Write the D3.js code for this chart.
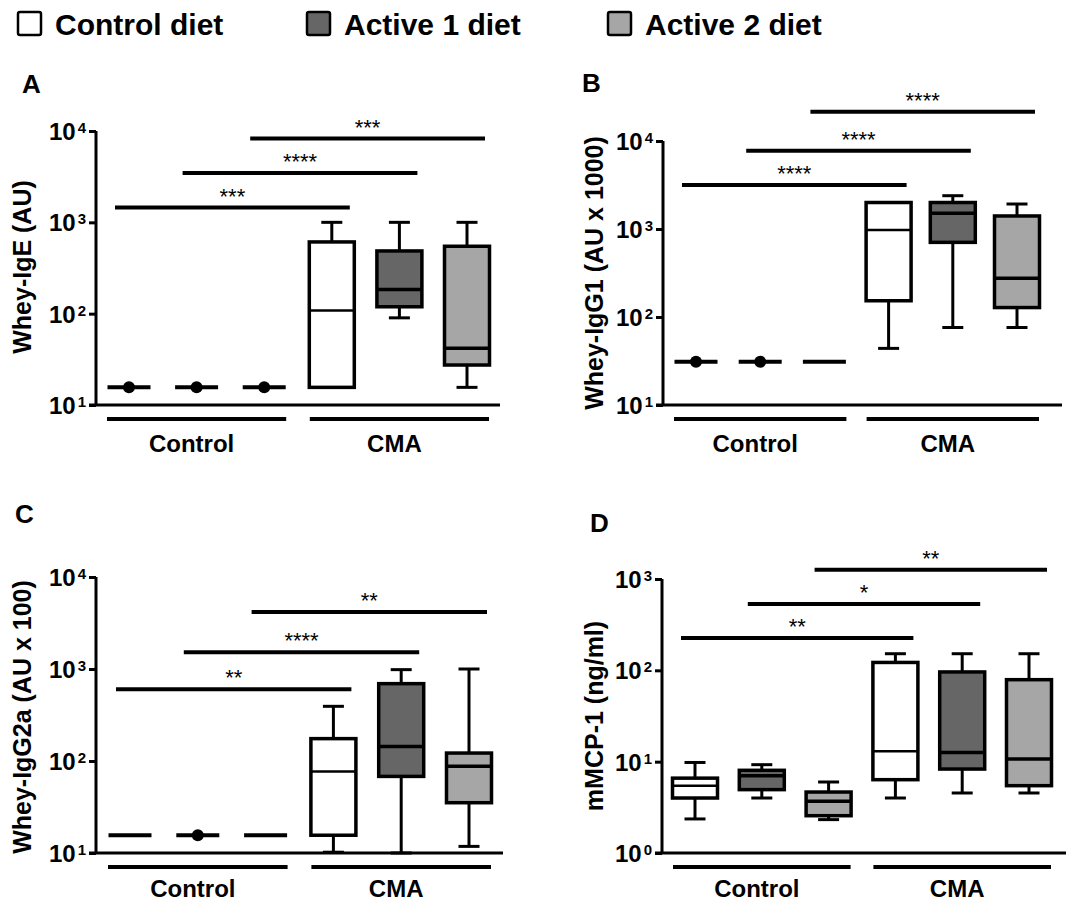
<!DOCTYPE html>
<html><head><meta charset="utf-8">
<script src="https://cdn.jsdelivr.net/npm/d3@7"></script>
<style>
body{margin:0;background:#fff}
svg{display:block;font-family:"Liberation Sans",Arial,Helvetica,sans-serif}
</style>
</head><body>
<svg id="chart" width="1066" height="903"></svg>
<script>
// ---------------- DATA ----------------
const diets = ["Control diet", "Active 1 diet", "Active 2 diet"];
const groups = ["Control", "CMA"];
const dietFills = ["#ffffff", "#666666", "#a6a6a6"];

// box stats per box: [min, q1, median, q3, max]; order = Control group (3 diets), CMA group (3 diets)
const igeBoxes = [
  [15.6, 15.6, 15.6, 15.6, 15.6], [15.6, 15.6, 15.6, 15.6, 15.6], [15.6, 15.6, 15.6, 15.6, 15.6],
  [15.6, 15.6, 108, 610, 1000], [90, 119, 184, 486, 1000], [15.6, 27.4, 41.7, 547, 1000]
];
const igeDots = [15.6, 15.6, 15.6, null, null, null];
const igeSig = [[0, 3, 1450, "***"], [1, 4, 3460, "****"], [2, 5, 8260, "***"]];

const igg1Boxes = [
  [31, 31, 31, 31, 31], [31, 31, 31, 31, 31], [31, 31, 31, 31, 31],
  [44, 153, 974, 2000, 2000], [76, 705, 1507, 2000, 2390], [76, 128, 275, 1406, 1923]
];
const igg1Dots = [31, 31, null, null, null, null];
const igg1Sig = [[0, 3, 3162, "****"], [1, 4, 7770, "****"], [2, 5, 21500, "****"]];

const igg2aBoxes = [
  [15.6, 15.6, 15.6, 15.6, 15.6], [15.6, 15.6, 15.6, 15.6, 15.6], [15.6, 15.6, 15.6, 15.6, 15.6],
  [10.2, 15.6, 77, 175, 393], [10, 68, 144, 693, 984], [11.8, 35.2, 87.5, 122, 1000]
];
const igg2aDots = [null, 15.6, null, null, null, null];
const igg2aSig = [[0, 3, 601, "**"], [1, 4, 1517, "****"], [2, 5, 4170, "**"]];

const mcpBoxes = [
  [2.36, 4.0, 5.46, 6.6, 9.8], [4.0, 4.94, 7.03, 8.04, 9.27], [2.32, 2.56, 3.68, 4.65, 5.99],
  [4.0, 6.35, 13, 122, 152], [4.54, 8.3, 12.6, 96, 152], [4.54, 5.46, 10.7, 79, 152]
];
const mcpDots = [null, null, null, null, null, null];
const mcpSig = [[0, 3, 226, "**"], [1, 4, 532, "*"], [2, 5, 1265, "**"]];

const igTicks = [10, 100, 1000, 10000];
const mcpTicks = [1, 10, 100, 1000];

const panelLetters = ["A", "B", "C", "D"];
const yTitles = ["Whey-IgE (AU)", "Whey-IgG1 (AU x 1000)", "Whey-IgG2a (AU x 100)", "mMCP-1 (ng/ml)"];

// ---------------- LAYOUT ----------------
const panels = [
  {letter: panelLetters[0], title: yTitles[0], boxes: igeBoxes, dots: igeDots, sig: igeSig, ticks: igTicks,
   axisX: 96, yTop: 131, yBot: 405, x0: 129, x1: 467, xEnd: 500, lx: 22, ly: 93, tx: 31, ty: 267, gl: 47},
  {letter: panelLetters[1], title: yTitles[1], boxes: igg1Boxes, dots: igg1Dots, sig: igg1Sig, ticks: igTicks,
   axisX: 663, yTop: 141, yBot: 405, x0: 696, x1: 1017, xEnd: 1062, lx: 582, ly: 92, tx: 603, ty: 273, gl: 47},
  {letter: panelLetters[2], title: yTitles[2], boxes: igg2aBoxes, dots: igg2aDots, sig: igg2aSig, ticks: igTicks,
   axisX: 96, yTop: 577, yBot: 853, x0: 130, x1: 469, xEnd: 503, lx: 15, ly: 523, tx: 31, ty: 717, gl: 44},
  {letter: panelLetters[3], title: yTitles[3], boxes: mcpBoxes, dots: mcpDots, sig: mcpSig, ticks: mcpTicks,
   axisX: 662, yTop: 579, yBot: 853, x0: 695, x1: 1029, xEnd: 1066, lx: 590, ly: 532, tx: 603, ty: 716, gl: 44}
];

const svg = d3.select("#chart");

// Legend
const legendX = [18, 307, 608];
const legend = svg.append("g");
diets.forEach((d, i) => {
  legend.append("rect").attr("x", legendX[i]).attr("y", 12).attr("width", 23).attr("height", 23)
    .attr("rx", 2).attr("fill", dietFills[i]).attr("stroke", "#000").attr("stroke-width", 2.5);
  legend.append("text").attr("x", legendX[i] + 37).attr("y", 35).attr("font-size", 30)
    .attr("font-weight", "bold").attr("fill", "#000").text(d);
});

const boxW = 45, capW = 21;

panels.forEach(p => {
  const g = svg.append("g");
  const ticks = p.ticks;
  const y = d3.scaleLog().domain([ticks[0], ticks[ticks.length - 1]]).range([p.yBot, p.yTop]);
  const idx = d3.range(p.boxes.length);
  const x = d3.scalePoint().domain(idx).range([p.x0, p.x1]);

  // panel letter
  g.append("text").attr("x", p.lx).attr("y", p.ly).attr("font-size", 26).attr("font-weight", "bold").text(p.letter);

  // y title
  g.append("text").attr("transform", `translate(${p.tx},${p.ty}) rotate(-90)`)
    .attr("text-anchor", "middle").attr("font-size", 25).attr("font-weight", "bold").text(p.title);

  // y axis using d3 axis, then styled
  const axis = d3.axisLeft(y).tickValues(ticks).tickSize(7).tickFormat("");
  const ag = g.append("g").attr("transform", `translate(${p.axisX},0)`).call(axis);
  ag.select(".domain").attr("stroke", "#000").attr("stroke-width", 3).attr("d", `M0,${p.yTop}V${p.yBot}`);
  ag.selectAll(".tick line").attr("stroke", "#000").attr("stroke-width", 3);
  ticks.forEach(t => {
    const tt = g.append("text").attr("x", p.axisX - 10).attr("y", y(t) + 9)
      .attr("text-anchor", "end").attr("font-weight", "bold").attr("font-size", 24);
    tt.append("tspan").text("10");
    tt.append("tspan").attr("font-size", 15).attr("dx", 2).attr("dy", -7).text(String(Math.round(Math.log10(t))));
  });

  // x axis line
  g.append("line").attr("x1", p.axisX - 7).attr("x2", p.xEnd).attr("y1", p.yBot).attr("y2", p.yBot)
    .attr("stroke", "#000").attr("stroke-width", 3);

  // group lines and labels
  groups.forEach((gr, k) => {
    const a = x(k * 3) - 22, b = x(k * 3 + 2) + 22;
    g.append("line").attr("x1", a).attr("x2", b).attr("y1", p.yBot + 14).attr("y2", p.yBot + 14)
      .attr("stroke", "#000").attr("stroke-width", 4);
    g.append("text").attr("x", (a + b) / 2 - 5).attr("y", p.yBot + p.gl).attr("text-anchor", "middle")
      .attr("font-size", 24).attr("font-weight", "bold").text(gr);
  });

  // boxes
  p.boxes.forEach((b, i) => {
    const [mn, q1, md, q3, mx] = b;
    const cx = x(i);
    const fill = dietFills[i % 3];
    const sw = 3;
    if (q3 > q1) {
      g.append("line").attr("x1", cx).attr("x2", cx).attr("y1", y(mx)).attr("y2", y(q3)).attr("stroke", "#000").attr("stroke-width", sw);
      g.append("line").attr("x1", cx).attr("x2", cx).attr("y1", y(q1)).attr("y2", y(mn)).attr("stroke", "#000").attr("stroke-width", sw);
      if (mx > q3) g.append("line").attr("x1", cx - capW / 2).attr("x2", cx + capW / 2).attr("y1", y(mx)).attr("y2", y(mx)).attr("stroke", "#000").attr("stroke-width", sw);
      if (mn < q1) g.append("line").attr("x1", cx - capW / 2).attr("x2", cx + capW / 2).attr("y1", y(mn)).attr("y2", y(mn)).attr("stroke", "#000").attr("stroke-width", sw);
      g.append("rect").attr("x", cx - boxW / 2).attr("width", boxW).attr("y", y(q3)).attr("height", y(q1) - y(q3))
        .attr("fill", fill).attr("stroke", "#000").attr("stroke-width", sw + 0.5);
      g.append("line").attr("x1", cx - boxW / 2).attr("x2", cx + boxW / 2).attr("y1", y(md)).attr("y2", y(md))
        .attr("stroke", "#000").attr("stroke-width", i % 3 === 0 ? 2.5 : 3.5);
    } else {
      g.append("line").attr("x1", cx - boxW / 2 + 1).attr("x2", cx + boxW / 2 - 1).attr("y1", y(md)).attr("y2", y(md))
        .attr("stroke", "#000").attr("stroke-width", 4);
    }
    if (p.dots[i] != null) {
      g.append("circle").attr("cx", cx).attr("cy", y(p.dots[i])).attr("r", 6).attr("fill", "#000");
    }
  });

  // significance bars
  p.sig.forEach(s => {
    const [from, to, lvl, lab] = s;
    const a = x(from) - 14, b = x(to) + 18, yy = y(lvl);
    g.append("line").attr("x1", a).attr("x2", b).attr("y1", yy).attr("y2", yy).attr("stroke", "#000").attr("stroke-width", 4);
    g.append("text").attr("x", (a + b) / 2).attr("y", yy - 4).attr("text-anchor", "middle").attr("font-size", 22).text(lab);
  });
});
</script>
</body></html>
